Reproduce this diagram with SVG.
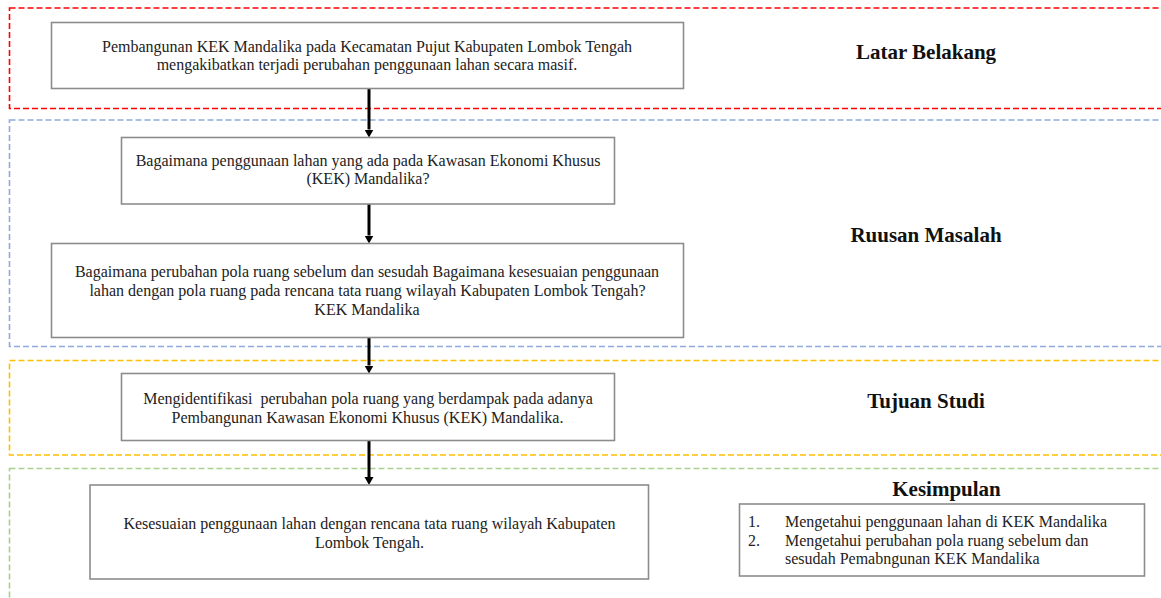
<svg xmlns="http://www.w3.org/2000/svg" width="1161" height="598" viewBox="0 0 1161 598">
  <style>
    .zone { fill: none; stroke-width: 1.6; stroke-dasharray: 6 3; }
    .box { fill: #ffffff; stroke: #8c8c8c; stroke-width: 1.6; }
    .t { font-family: "Liberation Serif", "Times New Roman", serif; font-size: 16px; fill: #222222; white-space: pre; }
    .c { text-anchor: middle; }
    .h { font-family: "Liberation Serif", "Times New Roman", serif; font-size: 21px; font-weight: bold; fill: #111111; text-anchor: middle; }
    .conn { stroke: #000000; stroke-width: 3; fill: none; marker-end: url(#arr); }
  </style>
  <defs>
    <marker id="arr" markerUnits="userSpaceOnUse" markerWidth="10" markerHeight="10" refX="0" refY="4.5" orient="auto">
      <path d="M0,0 L8,4.5 L0,9 z" fill="#000000"/>
    </marker>
  </defs>
  <rect width="1161" height="598" fill="#ffffff"/>

  <g id="zones">
    <rect class="zone" x="9.5" y="8" width="1170" height="100.5" stroke="#ff0000"/>
    <rect class="zone" x="9.5" y="120" width="1170" height="226.5" stroke="#8faadc"/>
    <rect class="zone" x="9.5" y="360.5" width="1170" height="94.5" stroke="#ffc000"/>
    <rect class="zone" x="9.5" y="468.5" width="1170" height="150" stroke="#a9d18e"/>
  </g>

  <g id="connectors">
    <line class="conn" x1="369" y1="88.5" x2="369" y2="129.5"/>
    <line class="conn" x1="369" y1="204" x2="369" y2="235.5"/>
    <line class="conn" x1="369" y1="337.5" x2="369" y2="365.5"/>
    <line class="conn" x1="369" y1="440.5" x2="369" y2="477"/>
  </g>

  <g id="latar-box">
    <rect class="box" x="51.5" y="22.5" width="632" height="66"/>
    <text class="t c" x="367" y="51.5">Pembangunan KEK Mandalika pada Kecamatan Pujut Kabupaten Lombok Tengah</text>
    <text class="t c" x="367" y="69.5">mengakibatkan terjadi perubahan penggunaan lahan secara masif.</text>
  </g>

  <g id="masalah-1">
    <rect class="box" x="121.5" y="137.5" width="493" height="66.5"/>
    <text class="t c" x="368" y="166">Bagaimana penggunaan lahan yang ada pada Kawasan Ekonomi Khusus</text>
    <text class="t c" x="368" y="184">(KEK) Mandalika?</text>
  </g>

  <g id="masalah-2">
    <rect class="box" x="51.5" y="243.5" width="632" height="94"/>
    <text class="t c" x="367" y="277">Bagaimana perubahan pola ruang sebelum dan sesudah Bagaimana kesesuaian penggunaan</text>
    <text class="t c" x="367.5" y="296">lahan dengan pola ruang pada rencana tata ruang wilayah Kabupaten Lombok Tengah?</text>
    <text class="t c" x="367" y="315">KEK Mandalika</text>
  </g>

  <g id="tujuan-box">
    <rect class="box" x="121.5" y="373.5" width="493" height="67"/>
    <text class="t c" x="368" y="404">Mengidentifikasi  perubahan pola ruang yang berdampak pada adanya</text>
    <text class="t c" x="367.5" y="423">Pembangunan Kawasan Ekonomi Khusus (KEK) Mandalika.</text>
  </g>

  <g id="kesimpulan-box">
    <rect class="box" x="90" y="485" width="558.5" height="94"/>
    <text class="t c" x="369.5" y="529">Kesesuaian penggunaan lahan dengan rencana tata ruang wilayah Kabupaten</text>
    <text class="t c" x="369.5" y="547.5">Lombok Tengah.</text>
  </g>

  <g id="labels">
    <text class="h" x="926" y="59">Latar Belakang</text>
    <text class="h" x="926" y="241.5">Ruusan Masalah</text>
    <text class="h" x="926" y="407.5">Tujuan Studi</text>
    <text class="h" x="946.5" y="496">Kesimpulan</text>
  </g>

  <g id="kesimpulan-list">
    <rect class="box" x="739.5" y="504" width="405" height="72"/>
    <text class="t" x="748" y="527">1.</text>
    <text class="t" x="785" y="527">Mengetahui penggunaan lahan di KEK Mandalika</text>
    <text class="t" x="748" y="545.5">2.</text>
    <text class="t" x="785" y="545.5">Mengetahui perubahan pola ruang sebelum dan</text>
    <text class="t" x="785" y="564">sesudah Pemabngunan KEK Mandalika</text>
  </g>
</svg>
